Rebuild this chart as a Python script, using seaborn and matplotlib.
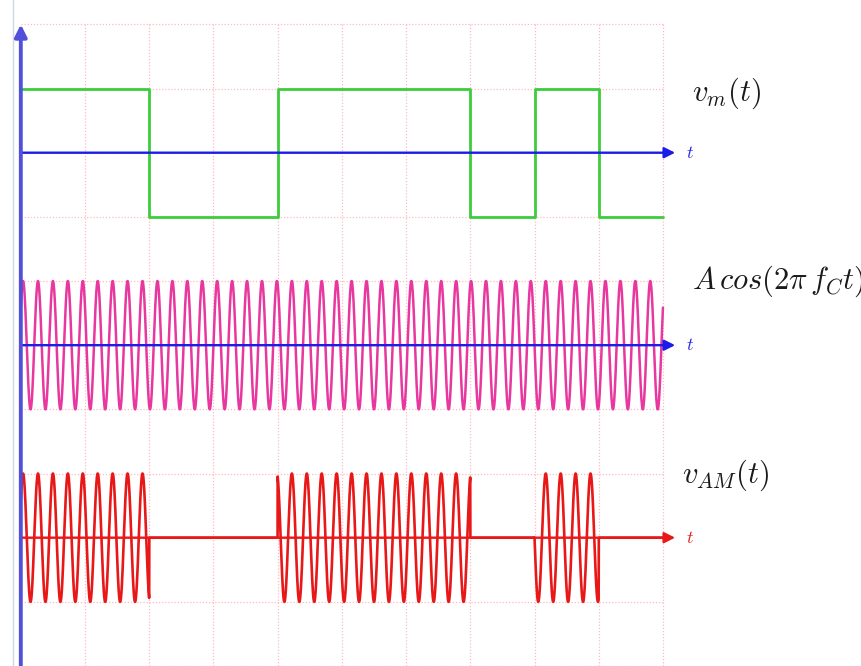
import numpy as np
import pandas as pd
import matplotlib.pyplot as plt
import seaborn as sns

# message bits, one per grid unit (t = 0..10)
bits = [1, 1, 0, 0, 1, 1, 1, 0, 1, 0]
bit_edges = [0, 1, 2, 3, 4, 5, 6, 7, 8, 9, 10]

# carrier
carrier_freq = 4.3      # cycles per grid unit
carrier_shift = 0.035   # first crest sits just right of the axis
amplitude = 1.0

# baselines of the three traces
msg_level = 8
carrier_level = 5
am_level = 2

labels = ["$v_m(t)$", "$A\\,cos(2\\pi\\, f_C t)$", "$v_{AM}(t)$"]
label_x = [10.45, 10.45, 10.3]
label_y = [8.93, 5.99, 2.98]

sns.set_style("white")
plt.rcParams["mathtext.fontset"] = "cm"

# %%
# build the traces
msg = pd.DataFrame({
    "t": bit_edges,
    "v": [msg_level + amplitude * (2 * b - 1) for b in bits + bits[-1:]],
})

t = np.linspace(0, 10, 8001)
carrier = amplitude * np.cos(2 * np.pi * carrier_freq * (t - carrier_shift))
on = np.array(bits)[np.minimum(t.astype(int), len(bits) - 1)]
sig = pd.DataFrame({
    "t": t,
    "carrier": carrier_level + carrier,
    "am": am_level + carrier * on,
})

# %%
fig = plt.figure(figsize=(8.62, 6.66), dpi=100)
ax = fig.add_axes([0, 0, 1, 1])
ax.set_xlim(-0.324, 13.10)
ax.set_ylim(0, 10.38)
ax.axis("off")

# dotted pink grid
grid_c = "#ffb8c0"
for g in range(1, 11):
    ax.plot([g, g], [0, 10], ls=(0, (1, 1.5)), color=grid_c, lw=0.9, zorder=0)
for g in range(0, 11):
    ax.plot([0, 10], [g, g], ls=(0, (1, 1.5)), color=grid_c, lw=0.9, zorder=0)

# faint frame line left of the axis
ax.plot([-0.12, -0.12], [0, 10.38], color="#cfd6e6", lw=1, zorder=1)

sns.lineplot(data=msg, x="t", y="v", color="#3ccc3c", lw=2.0,
             drawstyle="steps-post", estimator=None, ax=ax, zorder=2)
sns.lineplot(data=sig, x="t", y="carrier", color="#e8379f", lw=1.8,
             estimator=None, ax=ax, zorder=2)
sns.lineplot(data=sig, x="t", y="am", color="#e81818", lw=1.9,
             estimator=None, ax=ax, zorder=3)

# axes with arrow heads
arrow_blue = dict(arrowstyle="-|>", color="#1c1ce8", lw=1.7, mutation_scale=16,
                  shrinkA=0, shrinkB=0)
for lvl in [msg_level, carrier_level]:
    ax.annotate("", xy=(10.19, lvl), xytext=(0, lvl), arrowprops=arrow_blue,
                zorder=4)
    ax.text(10.36, lvl, "$t$", color="#2424e0", fontsize=13, va="center")
ax.annotate("", xy=(10.19, am_level), xytext=(0, am_level),
            arrowprops=dict(arrowstyle="-|>", color="#e81818", lw=1.7,
                            mutation_scale=16, shrinkA=0, shrinkB=0), zorder=2)
ax.text(10.36, am_level, "$t$", color="#e02020", fontsize=13, va="center")

ax.annotate("", xy=(0, 10.0), xytext=(0, -0.1),
            arrowprops=dict(arrowstyle="-|>", color="#5050d8", lw=2.8,
                            mutation_scale=18, shrinkA=0, shrinkB=0), zorder=5)

for txt, x, y in zip(labels, label_x, label_y):
    ax.text(x, y, txt, fontsize=22, color="#1a1a1a", va="center", ha="left")

fig.savefig("out.png", dpi=100)
